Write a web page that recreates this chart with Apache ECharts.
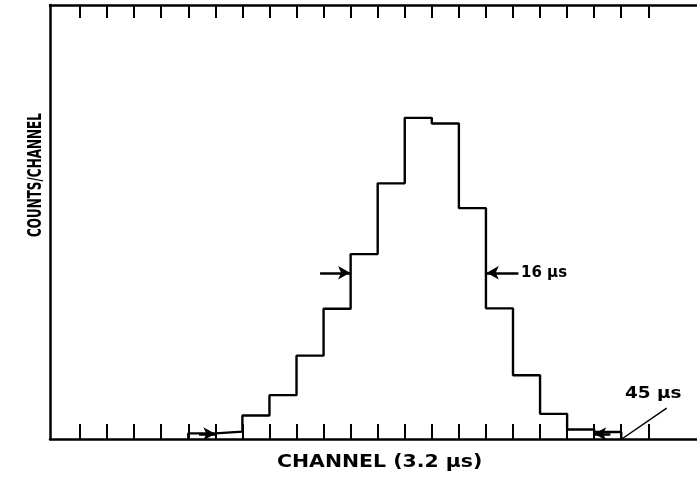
<!DOCTYPE html>
<html>
<head>
<meta charset="utf-8">
<script src="https://cdn.jsdelivr.net/npm/echarts@6/dist/echarts.min.js"></script>
<style>
html,body{margin:0;padding:0;background:#fff;}
#chart{width:697px;height:481px;}
</style>
</head>
<body>
<div id="chart"></div>
<script>
// Channel index of each bin's left edge (bin width = 1 channel = 3.2 µs)
var binStart = [4, 5, 6, 7, 8, 9, 10, 11, 12, 13, 14, 15, 16, 17, 18, 19];
// Counts per channel (arbitrary units, 0-100 scale)
var counts = [1.3, 1.7, 5.4, 10.1, 19.2, 30.0, 42.6, 58.9, 74.0, 72.7, 53.2, 30.1, 14.7, 5.8, 2.2, 1.6];
// Tick channels on top and bottom axes
var tickChannels = [0,1,2,3,4,5,6,7,8,9,10,11,12,13,14,15,16,17,18,19,20,21];
// Width markers: [fromChannel, toChannel, level]
var arrow16L = [8.87, 9.98, 38.3];
var arrow16R = [16.2, 15.03, 38.3];
var arrow45L = [4.4, 5.0, 1.2];
var arrow45R = [19.6, 19.0, 1.2];
var leader45 = [[20.02, 0], [21.68, 7.1]];

var data = [[binStart[0], 0]];
for (var i = 0; i < binStart.length; i++) data.push([binStart[i], counts[i]]);
data.push([binStart[binStart.length - 1] + 1, 0]);

function arrow(a) {
  return [{coord: [a[0], a[2]], symbol: 'none'}, {coord: [a[1], a[2]], symbol: 'arrow', symbolSize: [10, 12]}];
}

var chart = echarts.init(document.getElementById('chart'), null, {renderer: 'canvas'});
var axisCommon = {
  type: 'value', min: -1.11, max: 22.8,
  axisLine: {show: true, onZero: false, lineStyle: {color: '#000', width: 2.5}},
  axisLabel: {show: false},
  splitLine: {show: false}
};
chart.setOption({
  animation: false,
  backgroundColor: '#fff',
  grid: {left: 50, right: 0, top: 5, bottom: 42},
  xAxis: [
    Object.assign({}, axisCommon, {position: 'bottom',
      axisTick: {show: true, inside: true, length: 15, customValues: tickChannels, lineStyle: {color: '#000', width: 2}}}),
    Object.assign({}, axisCommon, {position: 'top',
      axisTick: {show: true, inside: true, length: 13, customValues: tickChannels, lineStyle: {color: '#000', width: 2}}})
  ],
  yAxis: {
    type: 'value', min: 0, max: 100,
    axisLine: {show: true, onZero: false, lineStyle: {color: '#000', width: 2.5}},
    axisTick: {show: false}, axisLabel: {show: false}, splitLine: {show: false}
  },
  series: [{
    type: 'line', step: 'end', data: data, xAxisIndex: 0,
    symbol: 'none', lineStyle: {color: '#000', width: 2.4},
    markLine: {
      silent: true, animation: false,
      label: {show: false},
      lineStyle: {color: '#000', width: 2.5, type: 'solid'},
      data: [
        arrow(arrow16L), arrow(arrow16R), arrow(arrow45L), arrow(arrow45R),
        [{coord: leader45[0], symbol: 'none'}, {coord: leader45[1], symbol: 'none', lineStyle: {width: 1.5}}]
      ]
    }
  }],
  graphic: [
    {type: 'text', left: 277, top: 453, scaleX: 1.135,
      style: {text: 'CHANNEL (3.2 μs)', font: 'bold 18px "DejaVu Sans"', fill: '#000'}},
    {type: 'text', x: 27, y: 237, rotation: Math.PI / 2, scaleX: 0.63,
      style: {text: 'COUNTS/CHANNEL', font: 'bold 19px "DejaVu Sans"', fill: '#000', textVerticalAlign: 'top'}},
    {type: 'text', x: 521, y: 273,
      style: {text: '16 μs', font: 'bold 15px "DejaVu Sans"', fill: '#000', textVerticalAlign: 'middle'}},
    {type: 'text', x: 625, y: 394, scaleX: 1.15,
      style: {text: '45 μs', font: 'bold 16px "DejaVu Sans"', fill: '#000', textVerticalAlign: 'middle'}}
  ]
});
</script>
</body>
</html>
